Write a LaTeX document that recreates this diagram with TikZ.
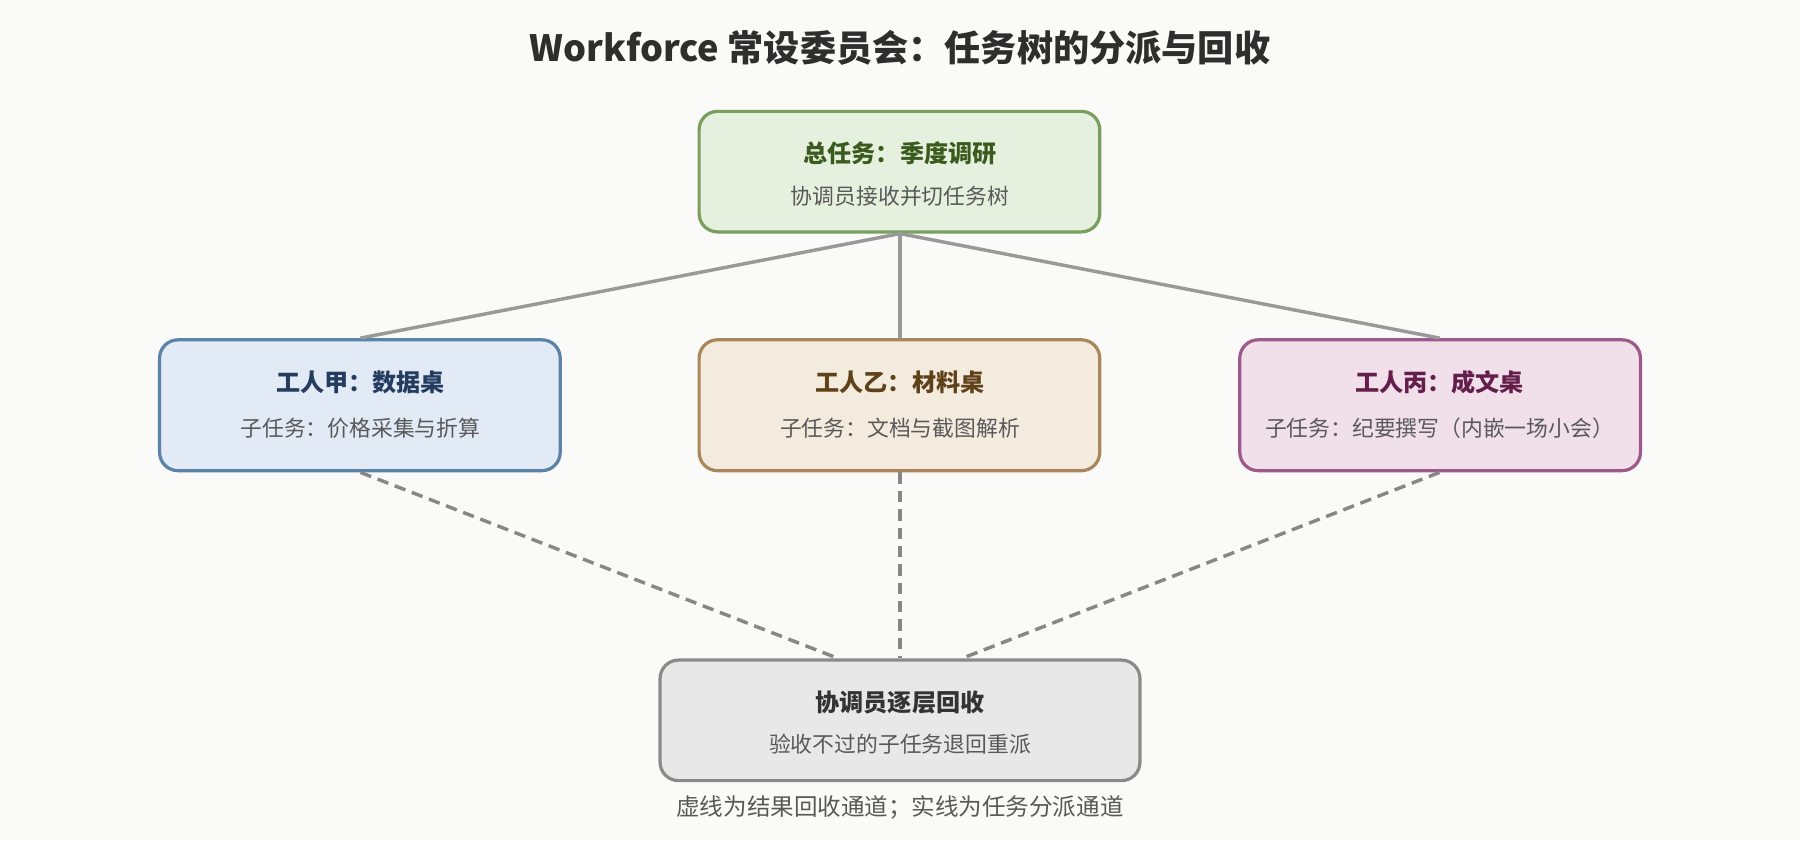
\documentclass[tikz,border=0pt]{standalone}
\usepackage{fontspec}
\setmainfont{Noto Sans CJK SC}
\begin{document}
\begin{tikzpicture}[x=1pt,y=-1pt,
  ttl/.style={font=\fontsize{21}{24}\selectfont\bfseries},
  sub/.style={font=\fontsize{19}{22}\selectfont, text=black!65},
  solid line/.style={draw=black!40, line width=3pt},
  dash line/.style={draw=black!47, line width=3pt, dash pattern=on 10pt off 6pt}]
\fill[fill={rgb,255:red,250;green,250;blue,248}] (0,0) rectangle (1568,732);
\useasboundingbox (0,0) rectangle (1568,732);
\node[font=\fontsize{31.5}{36}\selectfont\bfseries, text=black!82] (title) at (784,42) {Workforce 常设委员会：任务树的分派与回收};
% boxes
\path[draw={rgb,255:red,122;green,158;blue,94}, fill={rgb,255:red,230;green,240;blue,222}, line width=2.8pt, rounded corners=16pt] (609,97) rectangle (958,202);
\path[draw={rgb,255:red,91;green,130;blue,168}, fill={rgb,255:red,225;green,234;blue,245}, line width=2.8pt, rounded corners=16pt] (139,296) rectangle (488,410);
\path[draw={rgb,255:red,168;green,135;blue,90}, fill={rgb,255:red,244;green,235;blue,223}, line width=2.8pt, rounded corners=16pt] (609,296) rectangle (958,410);
\path[draw={rgb,255:red,156;green,90;blue,140}, fill={rgb,255:red,241;green,224;blue,234}, line width=2.8pt, rounded corners=16pt] (1080,296) rectangle (1429,410);
\path[draw={rgb,255:red,138;green,138;blue,138}, fill={rgb,255:red,232;green,232;blue,232}, line width=2.8pt, rounded corners=16pt] (575,575) rectangle (993,680);
% anchor coordinates
\coordinate (top) at (784,203.5);
\coordinate (aT) at (314,294.5); \coordinate (aB) at (314,411.5);
\coordinate (bT) at (784,294.5); \coordinate (bB) at (784,411.5);
\coordinate (cT) at (1254,294.5); \coordinate (cB) at (1254,411.5);
\coordinate (bl) at (730,573.5); \coordinate (bm) at (784,573.5); \coordinate (br) at (838,573.5);
\draw[solid line] (top) -- (aT); \draw[solid line] (top) -- (bT); \draw[solid line] (top) -- (cT);
\draw[dash line] (aB) -- (bl); \draw[dash line] (bB) -- (bm); \draw[dash line] (cB) -- (br);
% texts
\node[ttl, text={rgb,255:red,58;green,90;blue,30}] (t0) at (784,134) {总任务：季度调研};
\node[sub] (s0) at (784,171) {协调员接收并切任务树};
\node[ttl, text={rgb,255:red,35;green,60;blue,95}] (t1) at (314,333) {工人甲：数据桌};
\node[sub] (s1) at (314,373) {子任务：价格采集与折算};
\node[ttl, text={rgb,255:red,95;green,65;blue,25}] (t2) at (784,333) {工人乙：材料桌};
\node[sub] (s2) at (784,373) {子任务：文档与截图解析};
\node[ttl, text={rgb,255:red,100;green,30;blue,75}] (t3) at (1254,333) {工人丙：成文桌};
\node[sub] (s3) at (1254,373) {子任务：纪要撰写（内嵌一场小会）};
\node[ttl, text=black!80] (t4) at (784,612) {协调员逐层回收};
\node[sub] (s4) at (784,648) {验收不过的子任务退回重派};
\node[sub, font=\fontsize{20.5}{24}\selectfont] (cap) at (784,703) {虚线为结果回收通道；实线为任务分派通道};
\end{tikzpicture}
\end{document}
